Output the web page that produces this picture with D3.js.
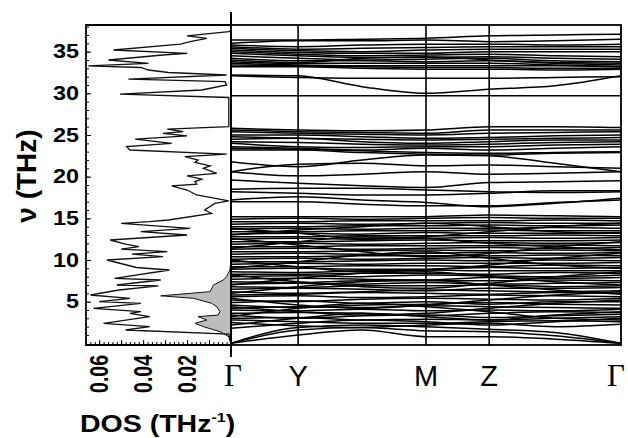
<!DOCTYPE html>
<html>
<head>
<meta charset="utf-8">
<script src="https://cdn.jsdelivr.net/npm/d3@7"></script>
<style>
    body { margin: 0; background: #fff; }
    svg text { font-family: "Liberation Sans", Arial, Helvetica, sans-serif; }
</style>
</head>
<body>
<svg id="chart" width="628" height="438"></svg>
<script>
// high symmetry path, positions as fraction of the total path length
const kLabels = ["Γ", "Y", "M", "Z", "Γ"]
const kTicks = [0, 0.172, 0.5, 0.662, 1.0]
// band values are read at these points: Γ, Y, mid Y-M, M, Z, mid Z-Γ, Γ
const kPoints = [0, 0.172, 0.336, 0.5, 0.662, 0.831, 1.0]

const upperBands = [
    [36.4, 36.4, 36.5, 36.6, 36.9, 37.0, 37.1],
    [36.0, 36.3, 36.3, 36.4, 36.2, 36.3, 36.5],
    [35.8, 35.6, 35.8, 35.9, 35.9, 35.8, 35.9],
    [35.6, 35.3, 35.4, 35.5, 35.6, 35.6, 35.6],
    [35.4, 35.1, 35.0, 35.2, 35.3, 35.3, 35.3],
    [35.2, 34.9, 34.8, 34.8, 35.0, 35.0, 35.0],
    [35.0, 34.7, 34.5, 34.6, 34.7, 34.5, 34.4],
    [34.8, 34.5, 34.3, 34.3, 34.4, 34.2, 34.1],
    [34.5, 34.2, 34.0, 34.1, 34.2, 33.9, 33.8],
    [34.2, 33.9, 33.9, 33.8, 33.9, 33.7, 33.6],
    [34.0, 33.7, 34.2, 34.4, 34.0, 33.6, 33.4],
    [33.8, 33.6, 33.6, 33.6, 33.6, 33.4, 33.2],
    [33.6, 33.4, 33.3, 33.3, 33.3, 33.3, 33.2],
    [33.4, 33.3, 33.2, 33.1, 33.1, 33.0, 33.0],
    [33.2, 33.2, 33.0, 32.9, 32.9, 32.8, 32.9],
    [32.1, 31.9, 31.8, 31.8, 31.8, 31.9, 32.0],
    [32.2, 32.1, 30.8, 30.0, 30.5, 30.9, 32.1],
    [29.7, 29.7, 29.7, 29.7, 29.7, 29.7, 29.7]
]

const middleBands = [
    [25.8, 25.6, 25.5, 25.6, 26.0, 26.0, 25.9],
    [25.6, 25.4, 25.3, 25.2, 25.6, 25.6, 25.6],
    [25.4, 25.2, 25.1, 25.0, 25.2, 25.3, 25.4],
    [25.0, 25.0, 24.8, 24.6, 24.7, 24.9, 25.0],
    [24.8, 24.6, 24.5, 24.4, 24.5, 24.6, 24.7],
    [24.5, 24.6, 24.2, 24.0, 24.2, 24.4, 24.4],
    [24.2, 24.1, 23.9, 23.8, 23.9, 24.1, 24.2],
    [24.0, 23.6, 23.5, 23.6, 23.6, 23.8, 23.9],
    [23.6, 23.4, 23.2, 23.4, 23.2, 23.4, 23.6],
    [23.4, 23.3, 23.1, 22.9, 22.8, 22.9, 23.0],
    [23.2, 23.2, 22.9, 22.7, 22.6, 22.8, 22.9],
    [21.8, 21.2, 22.0, 22.6, 22.5, 21.6, 20.6],
    [20.6, 21.5, 21.6, 21.3, 21.4, 21.2, 21.0],
    [20.6, 20.1, 20.3, 20.6, 20.3, 20.4, 20.6],
    [19.6, 19.2, 18.9, 18.7, 19.3, 19.4, 19.5],
    [18.5, 18.6, 18.6, 18.4, 18.2, 18.1, 18.2],
    [18.2, 18.0, 17.8, 17.8, 18.0, 18.3, 18.3],
    [17.2, 17.6, 17.2, 16.9, 16.4, 16.8, 17.4],
    [17.0, 17.0, 16.7, 16.5, 16.5, 16.9, 17.2]
]

const lowerBands = [
    [0, 1.0, 1.6, 0.8, 0.8, 0.5, 0],
    [0, 1.6, 1.9, 1.5, 1.4, 0.9, 0],
    [0, 1.9, 2.2, 2.0, 1.7, 1.3, 0],
    [2.5, 2.1, 1.9, 2.2, 2.4, 2.0, 2.3],
    [2.8, 2.6, 2.4, 2.4, 2.6, 2.7, 2.6],
    [3.0, 3.1, 2.8, 2.9, 2.8, 3.0, 3.2],
    [3.4, 3.0, 3.3, 3.4, 3.1, 3.3, 3.5],
    [3.6, 3.7, 3.6, 3.3, 3.6, 3.8, 3.7],
    [4.0, 3.9, 4.1, 3.9, 4.0, 3.9, 4.1],
    [4.2, 4.4, 4.3, 4.5, 4.4, 4.3, 4.2],
    [4.6, 4.3, 4.6, 4.7, 4.9, 4.7, 4.6],
    [4.9, 5.1, 4.8, 5.0, 4.7, 5.0, 5.0],
    [5.2, 5.0, 5.3, 5.4, 5.3, 5.2, 5.4],
    [5.6, 5.7, 5.5, 5.6, 5.8, 5.7, 5.6],
    [5.8, 5.9, 6.1, 6.0, 5.9, 6.1, 6.0],
    [6.2, 6.0, 6.2, 6.4, 6.3, 6.2, 6.3],
    [6.5, 6.6, 6.5, 6.3, 6.6, 6.6, 6.7],
    [6.8, 6.7, 6.9, 6.9, 7.0, 6.8, 6.9],
    [7.1, 7.2, 7.1, 7.3, 7.1, 7.2, 7.3],
    [7.4, 7.3, 7.5, 7.5, 7.5, 7.6, 7.5],
    [7.7, 7.8, 7.7, 7.6, 7.9, 7.8, 7.9],
    [8.0, 8.1, 8.0, 8.2, 8.1, 8.0, 8.2],
    [8.3, 8.3, 8.4, 8.4, 8.3, 8.5, 8.4],
    [8.6, 8.5, 8.7, 8.8, 8.7, 8.7, 8.7],
    [8.9, 9.0, 8.9, 8.9, 9.1, 9.0, 9.1],
    [9.2, 9.2, 9.3, 9.3, 9.2, 9.4, 9.3],
    [9.5, 9.6, 9.5, 9.6, 9.6, 9.6, 9.7],
    [9.8, 9.8, 9.9, 10.0, 9.9, 10.0, 9.9],
    [10.1, 10.2, 10.1, 10.2, 10.3, 10.2, 10.3],
    [10.4, 10.4, 10.5, 10.5, 10.5, 10.6, 10.5],
    [10.7, 10.8, 10.7, 10.8, 10.9, 10.8, 10.9],
    [11.0, 11.0, 11.1, 11.2, 11.1, 11.2, 11.1],
    [11.3, 11.4, 11.3, 11.4, 11.5, 11.4, 11.5],
    [11.6, 11.6, 11.7, 11.7, 11.7, 11.8, 11.7],
    [11.9, 12.0, 11.9, 12.0, 12.1, 12.0, 12.1],
    [12.2, 12.2, 12.3, 12.4, 12.3, 12.3, 12.4],
    [12.5, 12.6, 12.5, 12.6, 12.7, 12.6, 12.7],
    [12.8, 12.8, 12.9, 12.9, 12.9, 13.0, 12.9],
    [13.1, 13.2, 13.1, 13.3, 13.2, 13.2, 13.3],
    [13.4, 13.4, 13.5, 13.5, 13.6, 13.5, 13.5],
    [13.7, 13.8, 13.7, 13.8, 13.8, 13.9, 13.8],
    [14.0, 14.0, 14.1, 14.1, 14.2, 14.1, 14.2],
    [14.3, 14.4, 14.3, 14.4, 14.5, 14.4, 14.4],
    [14.6, 14.6, 14.7, 14.7, 14.7, 14.8, 14.7],
    [14.9, 15.0, 14.9, 15.0, 15.1, 15.0, 15.0],
    [15.2, 15.2, 15.2, 15.2, 15.4, 15.3, 15.2],
    [12.6, 11.8, 11.0, 10.4, 10.8, 11.6, 12.2],
    [9.0, 9.8, 10.6, 11.0, 10.2, 9.4, 9.0],
    [6.0, 6.8, 7.4, 7.6, 7.0, 6.4, 5.9],
    [8.2, 7.4, 6.8, 6.6, 7.2, 8.0, 8.6],
    [4.4, 3.8, 3.4, 3.6, 4.2, 4.8, 5.2],
    [13.8, 13.2, 12.6, 12.8, 13.4, 14.0, 14.4],
    [2.2, 3.0, 3.6, 3.2, 2.8, 3.4, 3.8],
    [3.2, 4.2, 4.8, 4.4, 3.8, 3.0, 2.8],
    [5.4, 4.6, 4.2, 4.6, 5.2, 5.8, 6.2],
    [7.0, 7.8, 8.4, 8.6, 8.0, 7.4, 7.0],
    [10.0, 9.2, 8.6, 8.8, 9.4, 10.2, 10.8],
    [11.4, 12.2, 12.8, 12.6, 12.0, 11.6, 11.2],
    [13.0, 13.6, 14.0, 14.4, 14.0, 13.4, 13.2],
    [1.8, 2.4, 2.8, 2.6, 2.2, 2.6, 3.0]
]

// total DOS (THz^-1) against frequency (THz)
const dosFreq = [0, 1.1, 1.6, 2.0, 2.4, 3.2, 3.6, 3.8, 4.2, 4.8, 5.0, 5.4, 5.8, 6.4, 6.9, 7.0, 7.6, 7.8, 8.8, 9.1,
    10.0, 10.4, 10.7, 11.0, 11.3, 11.6, 11.9, 12.4, 13.0, 13.4, 13.8, 14.4, 14.6, 14.8, 15.6, 16.0, 16.8, 17.1, 17.8, 18.4,
    18.9, 19.1, 19.4, 19.7, 20.1, 20.4, 21.0, 21.3, 21.7, 22.0, 22.4, 22.7, 23.2, 23.6, 24.0, 24.5, 24.9, 25.2, 25.4, 25.7,
    26.0, 29.5, 29.9, 30.4, 31.0, 31.4, 31.7, 32.2, 32.5, 32.8, 33.1, 33.3, 33.6, 34.0, 34.6, 34.8, 35.2, 35.9, 36.2, 36.6,
    36.9, 37.4, 37.6]
const dosTotal = [0, 0.001, 0.048, 0.037, 0.058, 0.037, 0.046, 0.041, 0.0626, 0.041, 0.060, 0.046, 0.064, 0.051, 0.033, 0.052, 0.032, 0.053, 0.028, 0.043,
    0.0565, 0.031, 0.045, 0.029, 0.050, 0.042, 0.048, 0.055, 0.020, 0.041, 0.0186, 0.050, 0.037, 0.0285, 0.0088, 0.012, 0.0073, 0.001, 0.0156, 0.020,
    0.027, 0.0156, 0.0164, 0.0133, 0.020, 0.0065, 0.0126, 0.0095, 0.0164, 0.015, 0.021, 0.002, 0.046, 0.0475, 0.027, 0.0436, 0.020, 0.031, 0.0217, 0.029,
    0.001, 0.001, 0.0505, 0.0133, 0.002, 0.0027, 0.0467, 0.002, 0.0285, 0.0376, 0.041, 0.065, 0.0376, 0.0558, 0.031, 0.020, 0.0535, 0.023, 0.0186, 0.011,
    0.020, 0.001, 0]

// partial DOS, shaded
const pdosFreq = [0, 0.8, 1.4, 2.0, 2.4, 2.8, 3.2, 3.4, 3.8, 4.4, 4.8, 5.4, 5.7, 6.2, 7.0, 7.6, 8.0, 8.8, 10.0]
const pdosVal = [0, 0.001, 0.005, 0.0126, 0.0164, 0.011, 0.015, 0.0058, 0.005, 0.0065, 0.0088, 0.017, 0.032, 0.0095, 0.008, 0.0035, 0.002, 0.0005, 0]

const yMajor = [5, 10, 15, 20, 25, 30, 35]
const dosMajor = [0.02, 0.04, 0.06]

const svg = d3.select("#chart")
const dosLeft = 86, dosRight = 231, bandRight = 621, plotTop = 25, plotBottom = 345

const y = d3.scaleLinear().domain([-0.2, 38.2]).range([plotBottom, plotTop])
const xDos = d3.scaleLinear().domain([0.066, 0]).range([dosLeft, dosRight])
const xK = d3.scaleLinear().domain([0, 1]).range([dosRight, bandRight])

svg.append("clipPath").attr("id", "bandClip")
    .append("rect").attr("x", dosRight).attr("y", plotTop)
    .attr("width", bandRight - dosRight).attr("height", plotBottom - plotTop)
svg.append("clipPath").attr("id", "dosClip")
    .append("rect").attr("x", dosLeft).attr("y", plotTop)
    .attr("width", dosRight - dosLeft).attr("height", plotBottom - plotTop)

// ---- DOS panel
let pdosArea = d3.area()
    .y(function (d, i) { return y(pdosFreq[i]) })
    .x0(xDos(0))
    .x1(function (d) { return xDos(d) })

svg.append("path")
    .datum(pdosVal)
    .attr("clip-path", "url(#dosClip)")
    .attr("d", pdosArea)
    .attr("fill", "#bdbdc0")
    .attr("stroke", "#111")
    .attr("stroke-width", 1)

let dosLine = d3.line()
    .y(function (d, i) { return y(dosFreq[i]) })
    .x(function (d) { return xDos(d) })

svg.append("path")
    .datum(dosTotal)
    .attr("clip-path", "url(#dosClip)")
    .attr("d", dosLine)
    .attr("fill", "none")
    .attr("stroke", "#111")
    .attr("stroke-width", 1.3)

// y axis (ticks point inwards)
svg.append("g")
    .attr("transform", "translate(" + dosLeft + ",0)")
    .call(d3.axisLeft(y).tickValues(d3.range(1, 39)).tickSize(-3).tickFormat(""))
    .call(g => g.select(".domain").remove())

let yAxisG = svg.append("g")
    .attr("transform", "translate(" + dosLeft + ",0)")
    .call(d3.axisLeft(y).tickValues(yMajor).tickSize(-5).tickPadding(7))
yAxisG.select(".domain").remove()
yAxisG.selectAll("text")
    .attr("x", -7 / 1.2)
    .attr("transform", "scale(1.2,1)")
    .attr("font-size", 19.5)
    .attr("font-weight", "bold")
    .attr("font-family", "Liberation Sans, Arial, sans-serif")
    .attr("fill", "#000")

// DOS axis at the bottom
svg.append("g")
    .attr("transform", "translate(0," + plotBottom + ")")
    .call(d3.axisBottom(xDos).tickValues(d3.range(0, 0.0661, 0.002)).tickSize(-3).tickFormat(""))
    .call(g => g.select(".domain").remove())

let xAxisG = svg.append("g")
    .attr("transform", "translate(0," + plotBottom + ")")
    .call(d3.axisBottom(xDos).tickValues([0.01, 0.02, 0.03, 0.04, 0.05, 0.06]).tickSize(-5).tickFormat(""))
xAxisG.select(".domain").remove()

svg.append("g").selectAll("text")
    .data(dosMajor)
    .join("text")
    .attr("transform", function (d) { return "translate(" + xDos(d) + "," + (plotBottom + 10) + ") scale(1.3,1) rotate(-90)" })
    .attr("text-anchor", "end")
    .attr("dy", "0.35em")
    .attr("font-size", 19.5)
    .attr("font-weight", "bold")
    .text(function (d) { return d3.format(".2f")(d) })

// DOS frame
svg.append("path")
    .attr("d", "M" + dosRight + "," + plotTop + "H" + dosLeft + "V" + plotBottom + "H" + dosRight)
    .attr("fill", "none")
    .attr("stroke", "#000")
    .attr("stroke-width", 1.8)

// ---- band structure panel
let bandLine = d3.line()
    .x(function (d, i) { return xK(kPoints[i]) })
    .y(function (d) { return y(d) })
    .curve(d3.curveMonotoneX)

let allBands = upperBands.concat(middleBands, lowerBands)

svg.append("g")
    .attr("clip-path", "url(#bandClip)")
    .selectAll(".band")
    .data(allBands)
    .join("path")
    .attr("class", "band")
    .attr("d", bandLine)
    .attr("fill", "none")
    .attr("stroke", "#000")
    .attr("stroke-width", 1.5)

svg.append("g").selectAll("line")
    .data(kTicks.slice(1, 4))
    .join("line")
    .attr("x1", d => xK(d)).attr("x2", d => xK(d))
    .attr("y1", plotTop).attr("y2", plotBottom)
    .attr("stroke", "#000")
    .attr("stroke-width", 1.6)

svg.append("rect")
    .attr("x", dosRight).attr("y", plotTop)
    .attr("width", bandRight - dosRight).attr("height", plotBottom - plotTop)
    .attr("fill", "none")
    .attr("stroke", "#000")
    .attr("stroke-width", 1.8)

// the shared frequency line between both panels
svg.append("line")
    .attr("x1", dosRight).attr("x2", dosRight)
    .attr("y1", 12).attr("y2", 357)
    .attr("stroke", "#000")
    .attr("stroke-width", 2)

svg.append("g").selectAll("text")
    .data(kLabels)
    .join("text")
    .attr("x", function (d, i) { return xK(kTicks[i]) + (i === 0 ? 2 : i === 4 ? -5 : 0) })
    .attr("y", 386)
    .attr("text-anchor", "middle")
    .attr("font-size", function (d) { return d === "Γ" ? 31 : 29 })
    .style("font-family", function (d) { return d === "Γ" ? "Liberation Serif, Times New Roman, serif" : null })
    .text(d => d)

// axis titles
let dosTitle = svg.append("text")
    .attr("transform", "translate(80,432) scale(1.24,1)")
    .attr("font-size", 23)
    .attr("font-weight", "bold")
dosTitle.append("tspan").text("DOS (THz")
dosTitle.append("tspan").attr("font-size", 13).attr("dy", -10).text("-1")
dosTitle.append("tspan").attr("dy", 10).text(")")

svg.append("text")
    .attr("transform", "translate(36,176) rotate(-90)")
    .attr("text-anchor", "middle")
    .attr("font-size", 28)
    .attr("font-weight", "bold")
    .text("ν (THz)")
</script>
</body>
</html>
